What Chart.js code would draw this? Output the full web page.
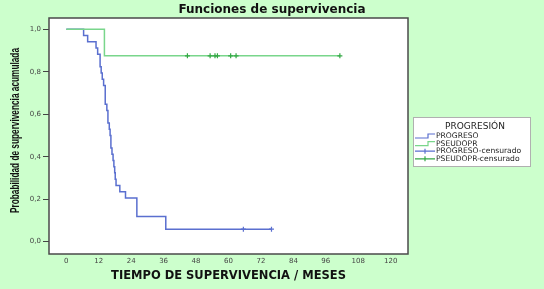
<!DOCTYPE html>
<html>
<head>
<meta charset="utf-8">
<script src="https://cdn.jsdelivr.net/npm/chart.js@4"></script>
<style>
  html, body { margin: 0; padding: 0; background: #ccffcc; }
  #wrap { width: 544px; height: 289px; }
</style>
</head>
<body>
<div id="wrap"><canvas id="kmChart"></canvas></div>
<script>
// Kaplan-Meier steps (months, cumulative survival)
const progresoTiempos = [0, 6.4, 7.9, 11.0, 11.6, 12.5, 12.9, 13.3, 13.8, 14.4, 15.0, 15.4, 15.9, 16.2, 16.5, 16.9, 17.3, 17.6, 17.9, 18.1, 18.4, 19.8, 21.9, 26.1, 36.8, 75.9];
const progresoSupervivencia = [1.0, 0.971, 0.941, 0.912, 0.882, 0.824, 0.794, 0.765, 0.735, 0.647, 0.618, 0.559, 0.529, 0.5, 0.441, 0.412, 0.382, 0.353, 0.324, 0.294, 0.265, 0.235, 0.206, 0.118, 0.059, 0.059];
const pseudoTiempos = [0, 14.1, 101.2];
const pseudoSupervivencia = [1.0, 0.875, 0.875];

// censored cases
const progresoCensurados = [65.5, 75.9];
const progresoCensuradosValor = [0.059, 0.059];
const pseudoCensurados = [44.8, 53.2, 55.0, 55.9, 60.8, 62.8, 101.2];
const pseudoCensuradosValor = [0.875, 0.875, 0.875, 0.875, 0.875, 0.875, 0.875];

const xTicks = [0, 12, 24, 36, 48, 60, 72, 84, 96, 108, 120];
const yTicks = [0, 0.2, 0.4, 0.6, 0.8, 1.0];

const labels = ["PROGRESO", "PSEUDOPR", "PROGRESO-censurado", "PSEUDOPR-censurado"];
const yTitulo = "Probabilidad de supervivencia acumulada";

const AZUL = "#5a6fcf";
const VERDE = "#79d68b";
const VERDE_OSCURO = "#34a845";

const toPoints = (xs, ys) => xs.map((x, i) => ({ x: x, y: ys[i] }));

// white plot area + frame
const plotArea = {
  id: "plotArea",
  beforeDraw(chart) {
    const { ctx, chartArea: a } = chart;
    ctx.save();
    ctx.fillStyle = "#ccffcc";
    ctx.fillRect(0, 0, chart.width, chart.height);
    ctx.fillStyle = "#ffffff";
    ctx.fillRect(a.left, a.top, a.right - a.left, a.bottom - a.top);
    ctx.restore();
  },
  afterDraw(chart) {
    const { ctx, chartArea: a } = chart;
    ctx.save();
    ctx.strokeStyle = "#4a4a4a";
    ctx.lineWidth = 1.5;
    ctx.strokeRect(a.left, a.top, a.right - a.left, a.bottom - a.top);
    ctx.restore();
  },
};

// condensed y axis title (SPSS squeezes it)
const yTitle = {
  id: "yTitle",
  afterDraw(chart) {
    const { ctx, chartArea: a } = chart;
    ctx.save();
    ctx.font = 'bold 12px "Liberation Sans"';
    const w = ctx.measureText(yTitulo).width;
    ctx.translate(15.5, (a.top + a.bottom) / 2 - 5.5);
    ctx.rotate(-Math.PI / 2);
    ctx.scale(165 / w, 1);
    ctx.textAlign = "center";
    ctx.textBaseline = "middle";
    ctx.fillStyle = "#111";
    ctx.fillText(yTitulo, 0, 0);
    ctx.restore();
  },
};

// SPSS style legend box to the right of the plot
const legendBox = {
  id: "legendBox",
  afterDraw(chart) {
    const { ctx, chartArea: a } = chart;
    const x0 = a.right + 5, y0 = 117, w = 117, h = 49;
    ctx.save();
    ctx.fillStyle = "#ffffff";
    ctx.fillRect(x0, y0, w, h);
    ctx.strokeStyle = "#b0b0b0";
    ctx.lineWidth = 1;
    ctx.strokeRect(x0 + 0.5, y0 + 0.5, w, h);

    ctx.fillStyle = "#222";
    ctx.textBaseline = "middle";
    ctx.textAlign = "center";
    ctx.font = '9px "DejaVu Sans"';
    ctx.fillText("PROGRESIÓN", x0 + 62, y0 + 10);

    const colors = [AZUL, VERDE, AZUL, VERDE_OSCURO];
    const lineCols = [AZUL, VERDE, AZUL, VERDE];
    ctx.textAlign = "left";
    ctx.font = '7.6px "DejaVu Sans"';
    labels.forEach((lab, i) => {
      const yy = y0 + 19 + i * 7.6;
      const ix = x0 + 2;
      ctx.strokeStyle = lineCols[i];
      ctx.lineWidth = 1.2;
      ctx.beginPath();
      if (i < 2) {
        ctx.moveTo(ix, yy + 2);
        ctx.lineTo(ix + 13, yy + 2);
        ctx.lineTo(ix + 13, yy - 2);
        ctx.lineTo(ix + 20, yy - 2);
      } else {
        ctx.moveTo(ix, yy);
        ctx.lineTo(ix + 20, yy);
        ctx.moveTo(ix + 10, yy - 2.5);
        ctx.lineTo(ix + 10, yy + 2.5);
        ctx.strokeStyle = colors[i];
      }
      ctx.stroke();
      ctx.fillStyle = "#222";
      ctx.fillText(lab, ix + 21, yy);
    });
    ctx.restore();
  },
};

new Chart(document.getElementById("kmChart"), {
  type: "line",
  data: {
    datasets: [
      {
        label: labels[0],
        data: toPoints(progresoTiempos, progresoSupervivencia),
        borderColor: AZUL,
        borderWidth: 1.5,
        stepped: true,
        pointRadius: 0,
        fill: false,
        order: 3,
      },
      {
        label: labels[1],
        data: toPoints(pseudoTiempos, pseudoSupervivencia),
        borderColor: VERDE,
        borderWidth: 1.5,
        stepped: true,
        pointRadius: 0,
        fill: false,
        order: 2,
      },
      {
        label: labels[2],
        data: toPoints(progresoCensurados, progresoCensuradosValor),
        showLine: false,
        pointStyle: "cross",
        pointRadius: 2.5,
        pointBorderWidth: 1.2,
        borderColor: AZUL,
        backgroundColor: AZUL,
        order: 1,
      },
      {
        label: labels[3],
        data: toPoints(pseudoCensurados, pseudoCensuradosValor),
        showLine: false,
        pointStyle: "cross",
        pointRadius: 2.5,
        pointBorderWidth: 1.2,
        borderColor: VERDE_OSCURO,
        backgroundColor: VERDE_OSCURO,
        order: 0,
      },
    ],
  },
  options: {
    responsive: true,
    maintainAspectRatio: false,
    animation: false,
    layout: { padding: 0 },
    plugins: {
      legend: { display: false },
      tooltip: { enabled: false },
      title: {
        display: true,
        text: "Funciones de supervivencia",
        color: "#111",
        font: { family: "DejaVu Sans", weight: "bold", size: 12 },
        padding: { top: 3, bottom: 0.6 },
      },
    },
    scales: {
      x: {
        type: "linear",
        min: -6.4,
        max: 126.4,
        afterBuildTicks: (s) => { s.ticks = xTicks.map((v) => ({ value: v })); },
        ticks: {
          color: "#444",
          font: { family: "DejaVu Sans", size: 7 },
          padding: 3,
          maxRotation: 0,
          autoSkip: false,
        },
        grid: { display: false, drawTicks: false },
        border: { display: false },
        title: {
          display: true,
          text: "TIEMPO DE SUPERVIVENCIA / MESES",
          color: "#111",
          font: { family: "DejaVu Sans", weight: "bold", size: 11.5 },
          padding: { top: 0, bottom: 6.5 },
        },
        afterFit: (s) => { s.height = 35; },
      },
      y: {
        type: "linear",
        min: -0.058,
        max: 1.053,
        afterBuildTicks: (s) => { s.ticks = yTicks.map((v) => ({ value: v })); },
        ticks: {
          color: "#444",
          font: { family: "DejaVu Sans", size: 7 },
          padding: 2,
          callback: (v) => Number(v).toFixed(1).replace(".", ","),
        },
        grid: { display: true, drawOnChartArea: false, drawTicks: true, tickLength: 6, color: "#444" },
        border: { display: false },
        title: { display: false },
        afterFit: (s) => { s.width = 49; },
      },
      derecha: {
        type: "linear",
        position: "right",
        display: true,
        ticks: { display: false },
        grid: { display: false, drawTicks: false },
        border: { display: false },
        afterFit: (s) => { s.width = 136; },
      },
    },
  },
  plugins: [plotArea, yTitle, legendBox],
});
</script>
</body>
</html>
